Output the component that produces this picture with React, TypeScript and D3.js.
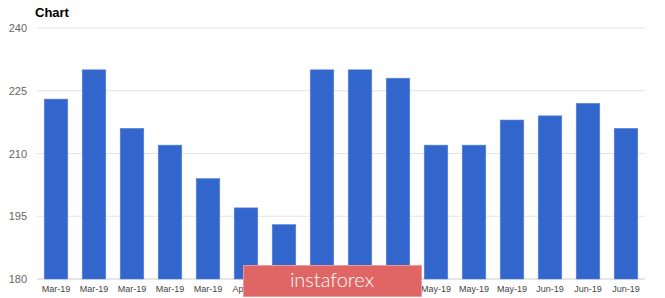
import React from "react";
import * as d3 from "d3";

const labels = [
  "Mar-19", "Mar-19", "Mar-19", "Mar-19", "Mar-19",
  "Apr-19", "Apr-19", "Apr-19", "Apr-19",
  "May-19", "May-19", "May-19", "May-19",
  "Jun-19", "Jun-19", "Jun-19",
];
const values = [223, 230, 216, 212, 204, 197, 193, 230, 230, 228, 212, 212, 218, 219, 222, 216];
const yTicks = [180, 195, 210, 225, 240];

const W = 665;
const H = 298;
const left = 37;
const right = 645;
const top = 28;
const bottom = 279;

export default function App() {
  const idx = values.map((_, i) => String(i));
  const x = d3.scaleBand<string>().domain(idx).range([left, right]).paddingInner(0.38).paddingOuter(0.19);
  const y = d3.scaleLinear().domain([180, 240]).range([bottom, top]);

  return (
    <svg width={W} height={H} style={{ position: "absolute", left: 0, top: 0, fontFamily: "Arial, 'Liberation Sans', sans-serif" }}>
      <rect width={W} height={H} fill="#ffffff" />
      <text x={35} y={17} fontSize={13} fontWeight="bold" fill="#000">Chart</text>
      {yTicks.map((t) => (
        <g key={t}>
          <line x1={left} x2={right} y1={y(t)} y2={y(t)} stroke={t === 180 ? "#cccccc" : "#e3e3e3"} strokeWidth={1} />
          <text x={27} y={y(t) + 4} fontSize={11} textAnchor="end" fill="#666">{t}</text>
        </g>
      ))}
      {values.map((v, i) => (
        <rect
          key={i}
          x={x(String(i))!}
          y={y(v)}
          width={x.bandwidth()}
          height={bottom - y(v)}
          fill="#3366cc"
          stroke="#5a85d9"
          strokeWidth={0.6}
        />
      ))}
      {labels.map((l, i) => (
        <text key={i} x={x(String(i))! + x.bandwidth() / 2} y={292} fontSize={9} textAnchor="middle" fill="#444">{l}</text>
      ))}
      <g>
        <rect x={243.5} y={265.5} width={178} height={31} fill="#e06666" stroke="#eb9a9a" strokeWidth={1} />
        <text x={332} y={287} fontSize={20} textAnchor="middle" fill="#ffffff" fontFamily="Lato, sans-serif" fontWeight={300}>instaforex</text>
      </g>
    </svg>
  );
}
